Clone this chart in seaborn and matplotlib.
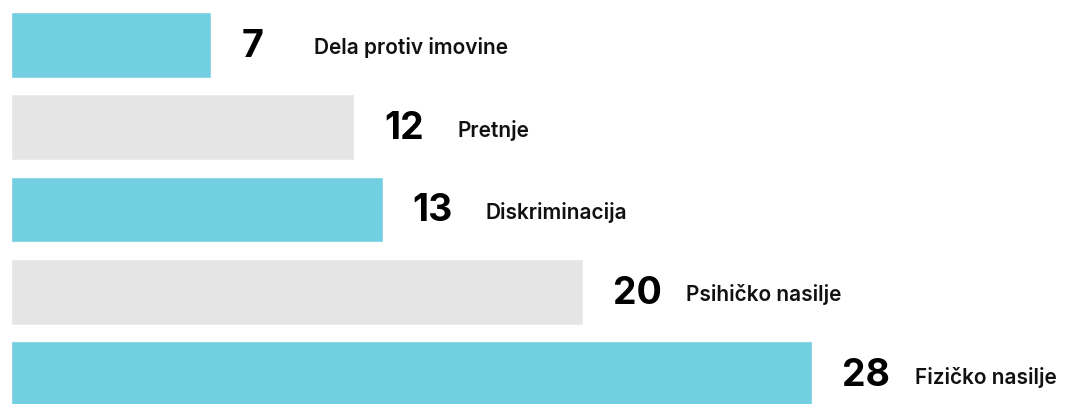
import matplotlib
matplotlib.use("Agg")
import matplotlib.pyplot as plt
import seaborn as sns
import pandas as pd

# chart data
categories = ["Dela protiv imovine", "Pretnje", "Diskriminacija", "Psihičko nasilje", "Fizičko nasilje"]
counts = [7, 12, 13, 20, 28]
bar_colors = ["#72CEE1", "#E5E5E5", "#72CEE1", "#E5E5E5", "#72CEE1"]

df = pd.DataFrame({"kategorija": categories, "broj": counts})

sns.set_style("white")
plt.rcParams["font.family"] = ["Inter", "DejaVu Sans"]

fig = plt.figure(figsize=(10.68, 4.04), dpi=100)
ax = fig.add_axes([11 / 1068, 0, 1 - 11 / 1068, 1])

sns.barplot(data=df, x="broj", y="kategorija", hue="kategorija",
            palette=bar_colors, orient="h", width=0.8, legend=False,
            saturation=1, ax=ax)

px_per_unit = 28.6
ax.set_xlim(0, (1068 - 11) / px_per_unit)
ax.set_ylim(4 + 30 / 82.5, -45 / 82.5)

for i, (cat, val) in enumerate(zip(categories, counts)):
    ax.annotate(str(val), xy=(val, i), xytext=(30, -2), textcoords="offset pixels",
                ha="left", va="center", fontsize=27, fontweight="bold", color="black")
    ax.annotate(cat, xy=(val, i), xytext=(103, -3), textcoords="offset pixels",
                ha="left", va="center", fontsize=15, fontweight="semibold", color="#111111")

ax.axis("off")
fig.savefig("out.png", dpi=100)
